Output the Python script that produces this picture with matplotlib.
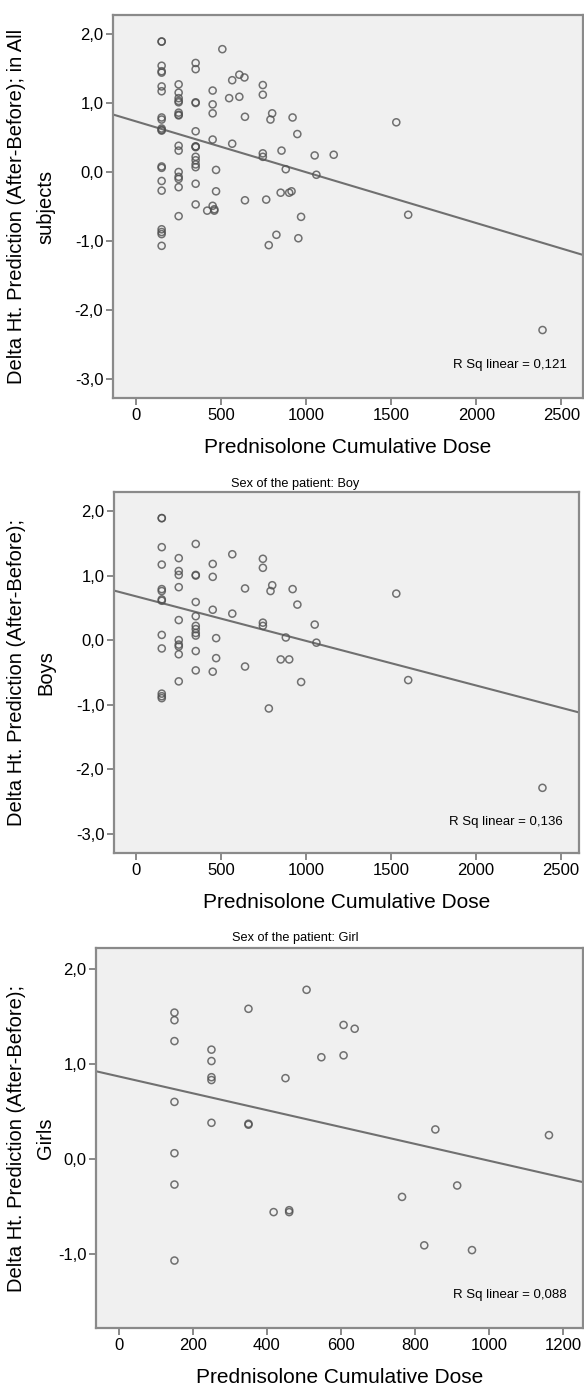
import matplotlib
matplotlib.use('Agg')
import matplotlib.pyplot as plt
import numpy as np
from matplotlib.ticker import FuncFormatter

plt.rcParams['font.family'] = ['Liberation Sans', 'DejaVu Sans']

# Boys: prednisolone cumulative dose vs delta height prediction
boys_dose = [150, 150, 150, 150, 150, 150, 150, 150, 150, 150, 150, 150, 150,
             250, 250, 250, 250, 250, 250, 250, 250, 250, 250,
             350, 350, 350, 350, 350, 350, 350, 350, 350, 350, 350,
             450, 450, 450, 450, 470, 470, 565, 565, 640, 640,
             745, 745, 745, 745, 800, 790, 780,
             880, 850, 900, 920, 948, 970, 1050, 1060, 1530, 1600, 2390]
boys_delta = [1.89, 1.89, 1.44, 1.17, 0.79, 0.76, 0.63, 0.61, 0.08, -0.13, -0.83, -0.87, -0.90,
              1.27, 1.07, 1.01, 0.82, 0.31, 0.00, -0.07, -0.10, -0.22, -0.64,
              1.49, 1.01, 1.00, 0.59, 0.37, 0.22, 0.17, 0.11, 0.07, -0.17, -0.47,
              1.18, 0.98, 0.47, -0.49, 0.03, -0.28, 1.33, 0.41, 0.80, -0.41,
              1.26, 1.12, 0.27, 0.22, 0.85, 0.76, -1.06,
              0.04, -0.30, -0.30, 0.79, 0.55, -0.65, 0.24, -0.04, 0.72, -0.62, -2.29]

# Girls
girls_dose = [150, 150, 150, 150, 150, 150, 150,
              250, 250, 250, 250, 250,
              350, 350, 350,
              418, 450, 460, 460,
              507, 547, 607, 607, 637,
              765, 825, 855, 914, 954, 1162]
girls_delta = [1.54, 1.46, 1.24, 0.60, 0.06, -0.27, -1.07,
               1.15, 1.03, 0.86, 0.83, 0.38,
               1.58, 0.37, 0.36,
               -0.56, 0.85, -0.54, -0.56,
               1.78, 1.07, 1.41, 1.09, 1.37,
               -0.40, -0.91, 0.31, -0.28, -0.96, 0.25]

all_dose = boys_dose + girls_dose
all_delta = boys_delta + girls_delta

r2_text = ['R Sq linear = 0,121', 'R Sq linear = 0,136', 'R Sq linear = 0,088']
ylab_line2 = ['subjects', 'Boys', 'Girls']
ylab_line1 = ['Delta Ht. Prediction (After-Before); in All',
              'Delta Ht. Prediction (After-Before);',
              'Delta Ht. Prediction (After-Before);']

W, H = 584, 1388
fig = plt.figure(figsize=(W / 100, H / 100), dpi=100)

# axes boxes in pixels: left, top, right, bottom
boxes = [(113, 15, 583, 398), (114, 492, 579, 853), (96, 948, 583, 1328)]
xlims = [(-136, 2628), (-131, 2605), (-62, 1254)]
ylims = [(-3.275, 2.275), (-3.30, 2.295), (-1.78, 2.22)]
xticks = [np.arange(0, 2501, 500), np.arange(0, 2501, 500), np.arange(0, 1201, 200)]
yticks = [[-3, -2, -1, 0, 1, 2], [-3, -2, -1, 0, 1, 2], [-1, 0, 1, 2]]
datasets = [(all_dose, all_delta), (boys_dose, boys_delta), (girls_dose, girls_delta)]

comma = FuncFormatter(lambda v, p: f'{v:.1f}'.replace('.', ','))

for i in range(3):
    l, t, r, b = boxes[i]
    ax = fig.add_axes([l / W, 1 - b / H, (r - l) / W, (b - t) / H])
    ax.set_facecolor('#f0f0f0')
    for s in ax.spines.values():
        s.set_color('#8a8a8a')
        s.set_linewidth(1.6)

    xd, yd = datasets[i]
    ax.scatter(xd, yd, s=26, facecolors='none', edgecolors='#505050',
               linewidths=1.1, alpha=0.8, zorder=3)

    # linear fit line
    k, c = np.polyfit(xd, yd, 1)
    xx = np.array(xlims[i])
    ax.plot(xx, k * xx + c, color='#707070', lw=1.5, zorder=2)

    ax.set_xlim(xlims[i])
    ax.set_ylim(ylims[i])
    ax.set_xticks(xticks[i])
    ax.set_yticks(yticks[i])
    ax.yaxis.set_major_formatter(comma)
    ax.tick_params(direction='out', length=5, width=1.3, color='#808080',
                   labelsize=12, pad=2)

    ax.set_xlabel('Prednisolone Cumulative Dose', fontsize=15, labelpad=11)
    ax.text(0.966, 0.07, r2_text[i], transform=ax.transAxes, ha='right',
            va='bottom', fontsize=9.5)

    yc = 1 - (t + b) / 2 / H
    fig.text(17 / W, yc, ylab_line1[i], rotation=90, ha='center', va='center',
             fontsize=14.5)
    fig.text(46 / W, yc, ylab_line2[i], rotation=90, ha='center', va='center',
             fontsize=14.5)

fig.text(295 / W, 1 - 484 / H, 'Sex of the patient: Boy', ha='center',
         va='center', fontsize=9.2)
fig.text(295 / W, 1 - 938 / H, 'Sex of the patient: Girl', ha='center',
         va='center', fontsize=9.2)

fig.savefig('out.png', dpi=100)
